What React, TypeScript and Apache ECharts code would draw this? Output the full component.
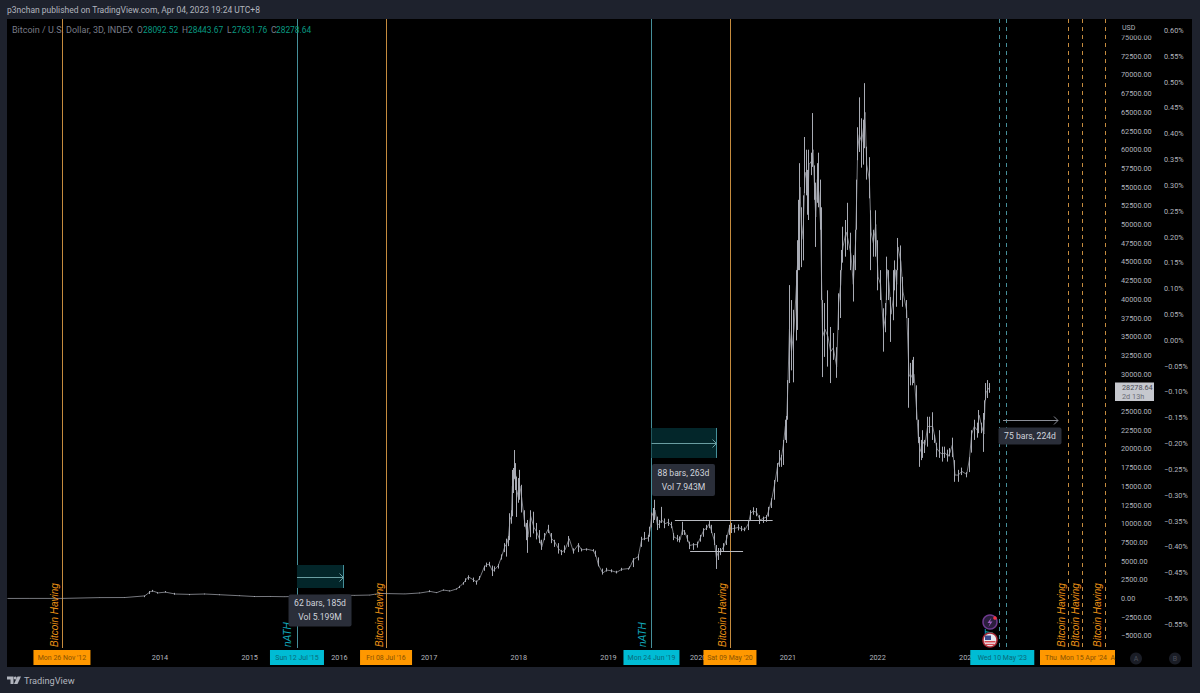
import React, { useEffect, useRef } from "react";
import * as echarts from "echarts";

// Each row: [decimal year, low, high, close].
const bars2012to2016 = [
  [2012.30, 5, 10, 8], [2012.55, 8, 12, 11], [2012.91, 11, 13, 12], [2013.33, 100, 140, 120], [2013.61, 90, 140, 130],
  [2013.83, 180, 400, 350], [2013.89, 600, 1000, 900], [2013.92, 900, 1150, 1000], [2013.98, 650, 850, 750],
  [2014.06, 800, 1000, 850], [2014.17, 500, 750, 600], [2014.33, 450, 600, 550], [2014.50, 550, 650, 600],
  [2014.67, 450, 550, 500], [2014.89, 330, 400, 370], [2015.06, 200, 320, 260], [2015.23, 230, 300, 270],
  [2015.39, 220, 260, 240], [2015.53, 270, 320, 290], [2015.67, 220, 260, 240], [2015.84, 300, 450, 400],
  [2016.01, 420, 470, 440], [2016.17, 380, 430, 420], [2016.34, 440, 480, 460], [2016.45, 550, 750, 680],
  [2016.56, 630, 680, 650], [2016.73, 600, 620, 610], [2016.90, 700, 780, 740],
];
const bars2017to2018 = [
  [2017.01, 850, 1100, 950], [2017.085, 750, 850, 780], [2017.158, 1050, 1200, 1130], [2017.233, 950, 1080, 1000],
  [2017.307, 1200, 1350, 1280], [2017.344, 1400, 1700, 1600], [2017.381, 1850, 2200, 2050], [2017.411, 2200, 2700, 2500],
  [2017.437, 2500, 3100, 2900], [2017.493, 2200, 2800, 2500], [2017.530, 1850, 2400, 2200], [2017.567, 2500, 3000, 2800],
  [2017.615, 3700, 4400, 4200], [2017.642, 4200, 4800, 4500], [2017.671, 4300, 4900, 4600], [2017.705, 3000, 4400, 3700],
  [2017.735, 3600, 4300, 3900], [2017.771, 4000, 4600, 4400], [2017.809, 5200, 5900, 5600], [2017.846, 6200, 7400, 7000],
  [2017.865, 5600, 8000, 7300], [2017.883, 7000, 8350, 8000], [2017.902, 7800, 11400, 10500], [2017.917, 10000, 11800, 11000],
  [2017.928, 11000, 17190, 15000], [2017.947, 14100, 17450, 16000], [2017.958, 16000, 19850, 17500], [2017.969, 14500, 18100, 16000],
  [2017.976, 10900, 16300, 13500], [2017.994, 12800, 16100, 14500], [2018.013, 13200, 17200, 15000], [2018.032, 11500, 15200, 13500],
  [2018.061, 9600, 11800, 10500], [2018.087, 7800, 10100, 9000], [2018.102, 6100, 10500, 8200], [2018.132, 8200, 11800, 11000],
  [2018.169, 8700, 11600, 9500], [2018.199, 7900, 10100, 8900], [2018.229, 7400, 9150, 8000], [2018.256, 6500, 7850, 6900],
  [2018.292, 7800, 8750, 8400], [2018.329, 8750, 9850, 9300], [2018.367, 7400, 8750, 8000], [2018.404, 6900, 7850, 7500],
  [2018.441, 6000, 7400, 6700], [2018.478, 5800, 6500, 6200], [2018.516, 6100, 7100, 6500], [2018.562, 6900, 8350, 8000],
  [2018.608, 6000, 6700, 6300], [2018.664, 6200, 7400, 7200], [2018.701, 6300, 6700, 6500], [2018.757, 6400, 6700, 6600],
  [2018.831, 6300, 6600, 6400], [2018.861, 5600, 6400, 5700], [2018.887, 4300, 5500, 4500], [2018.936, 3200, 4000, 3400],
  [2018.981, 3600, 4100, 3800],
];
const bars2019to2020 = [
  [2019.035, 3500, 3900, 3700], [2019.091, 3350, 3700, 3500], [2019.147, 3700, 4100, 3900], [2019.221, 3850, 4100, 4000],
  [2019.240, 4000, 4300, 4200], [2019.277, 4200, 5400, 5200], [2019.332, 5100, 5900, 5600], [2019.370, 6900, 8250, 7900],
  [2019.407, 7800, 8900, 8000], [2019.444, 7600, 8500, 8100], [2019.463, 8250, 9600, 9200], [2019.482, 9500, 11500, 11000],
  [2019.500, 10100, 12100, 11500], [2019.519, 10500, 13200, 11800], [2019.545, 9150, 10950, 9800], [2019.567, 9400, 10500, 10000],
  [2019.593, 10100, 12250, 10500], [2019.631, 9400, 10700, 10000], [2019.668, 9700, 10650, 10200], [2019.706, 9400, 10250, 9700],
  [2019.731, 7800, 8750, 8200], [2019.768, 7600, 8500, 8000], [2019.798, 7500, 8300, 7800], [2019.824, 8500, 10250, 9200],
  [2019.855, 8500, 9150, 8800], [2019.880, 7600, 8500, 7900], [2019.909, 6600, 7600, 7100], [2019.946, 6500, 7400, 7200],
  [2019.990, 6800, 7600, 7200], [2020.028, 7600, 8500, 8200], [2020.065, 8250, 9400, 9200], [2020.095, 9150, 9850, 9400],
  [2020.124, 9400, 10350, 10000], [2020.151, 8750, 9850, 8900], [2020.179, 7150, 8750, 7800], [2020.202, 3950, 7150, 5500],
  [2020.225, 5150, 6750, 6200], [2020.251, 5800, 6750, 6300], [2020.288, 6300, 7400, 7000], [2020.318, 7150, 8500, 8000],
  [2020.347, 8500, 9850, 9500], [2020.374, 8750, 10100, 9300], [2020.411, 8800, 9850, 9400], [2020.448, 9100, 9900, 9500],
  [2020.485, 9000, 9700, 9300], [2020.522, 9000, 9500, 9200], [2020.559, 9150, 10500, 10000], [2020.585, 10500, 11800, 11400],
  [2020.615, 11200, 12200, 11700], [2020.652, 11000, 12100, 11500], [2020.689, 9950, 11150, 10500], [2020.726, 10100, 10950, 10700],
  [2020.763, 10250, 11150, 10900], [2020.792, 10950, 12250, 12000], [2020.819, 12100, 13400, 13200], [2020.856, 13200, 15850, 15500],
  [2020.886, 15600, 18100, 17800], [2020.912, 17600, 19850, 18500], [2020.930, 17600, 19200, 19000], [2020.949, 17850, 21200, 20500],
  [2020.971, 21200, 23900, 23000], [2020.987, 20800, 24400, 24000],
];
const bars2021 = [
  [2021.001, 23900, 29200, 29000], [2021.017, 28800, 41900, 36000], [2021.040, 30500, 39900, 33000], [2021.068, 28900, 38600, 36000],
  [2021.096, 34500, 43900, 42000], [2021.113, 35900, 47900, 46000], [2021.124, 43900, 53300, 50000], [2021.135, 43900, 58200, 55000],
  [2021.154, 44300, 52300, 48000], [2021.172, 45200, 53900, 50000], [2021.191, 54200, 61700, 57000], [2021.210, 53900, 60000, 56000],
  [2021.224, 51300, 57300, 53000], [2021.235, 50600, 60000, 58000], [2021.265, 56600, 59600, 58500], [2021.280, 57700, 64900, 60000],
  [2021.297, 53300, 57900, 55000], [2021.310, 47000, 55600, 51000], [2021.328, 52900, 58200, 56000], [2021.347, 52300, 59600, 54000],
  [2021.364, 49300, 56000, 50000], [2021.376, 39900, 52300, 42000], [2021.386, 29600, 39900, 35000], [2021.413, 32300, 39500, 36000],
  [2021.447, 31000, 41200, 35000], [2021.477, 28800, 36300, 33000], [2021.506, 31900, 35500, 33500], [2021.544, 29500, 33600, 31000],
  [2021.566, 35900, 40800, 39500], [2021.589, 37500, 43900, 42000], [2021.600, 43900, 46600, 45500], [2021.614, 44900, 49700, 47000],
  [2021.648, 45700, 50600, 49000], [2021.670, 46600, 52900, 48000], [2021.703, 43900, 48900, 46000], [2021.729, 39700, 45900, 42000],
  [2021.756, 43900, 49300, 48000], [2021.767, 49300, 56000, 54000], [2021.778, 58600, 63000, 60000], [2021.796, 59700, 67000, 62000],
  [2021.823, 57600, 64200, 61000], [2021.843, 58000, 64000, 63000], [2021.860, 60200, 68900, 65000], [2021.879, 56000, 60400, 58000],
  [2021.908, 53500, 59000, 56000], [2021.927, 43900, 51900, 49000], [2021.953, 45700, 49300, 47500], [2021.980, 45700, 51900, 50000],
];
const bars2022to2023 = [
  [2022.005, 41200, 47900, 43000], [2022.033, 39900, 43900, 42000], [2022.065, 33000, 38800, 36000], [2022.092, 35600, 39500, 38000],
  [2022.106, 39900, 45700, 44000], [2022.128, 39900, 43900, 42000], [2022.150, 34300, 40300, 38000], [2022.175, 37200, 43900, 40000],
  [2022.194, 41200, 45200, 44000], [2022.213, 39000, 43900, 42000], [2022.227, 43900, 48200, 47000], [2022.260, 39900, 47200, 45000],
  [2022.283, 39000, 43000, 41000], [2022.324, 37500, 39900, 38500], [2022.350, 25500, 37500, 30000], [2022.369, 28500, 31500, 29500],
  [2022.389, 28500, 31900, 30000], [2022.406, 28800, 32300, 30000], [2022.436, 23900, 28500, 25000], [2022.454, 20800, 23900, 21500],
  [2022.473, 17600, 21600, 20000], [2022.489, 18500, 21200, 19500], [2022.503, 18800, 22500, 21000], [2022.528, 19450, 21200, 20500],
  [2022.558, 20300, 24300, 23000], [2022.584, 22100, 24300, 23000], [2022.614, 21200, 24900, 23000], [2022.640, 20800, 21900, 21500],
  [2022.662, 18900, 20800, 20000], [2022.696, 18800, 22500, 19500], [2022.721, 18300, 20300, 19300], [2022.751, 18800, 20300, 19500],
  [2022.785, 18300, 19900, 19000], [2022.807, 19000, 20100, 19500], [2022.833, 18900, 21500, 20500], [2022.863, 15600, 18500, 16500],
  [2022.900, 15600, 17200, 16500], [2022.938, 16500, 17500, 17000], [2022.993, 16200, 16900, 16600], [2023.022, 16900, 18900, 18500],
  [2023.049, 19500, 22500, 22000], [2023.078, 21200, 23900, 23000], [2023.111, 21500, 23500, 22500], [2023.133, 22100, 25200, 24500],
  [2023.160, 22100, 23500, 23000], [2023.186, 19600, 24800, 22000], [2023.197, 23900, 26500, 26000], [2023.208, 26500, 28800, 27500],
  [2023.233, 26800, 29200, 28000], [2023.252, 27500, 28800, 28278.64],
];

const yearLabels = [2014, 2015, 2016, 2017, 2018, 2019, 2020, 2021, 2022, 2023];
const priceTicks = [-5000, -2500, 0, 2500, 5000, 7500, 10000, 12500, 15000, 17500, 20000, 22500, 25000, 30000, 32500, 35000, 37500, 40000, 42500, 45000, 47500, 50000, 52500, 55000, 57500, 60000, 62500, 65000, 67500, 70000, 72500, 75000];
const percentTicks = [-0.55, -0.5, -0.45, -0.4, -0.35, -0.3, -0.25, -0.2, -0.15, -0.1, -0.05, 0, 0.05, 0.1, 0.15, 0.2, 0.25, 0.3, 0.35, 0.4, 0.45, 0.5, 0.55, 0.6];

const solidEventYears = [2012.907, 2015.527, 2016.52, 2019.479, 2020.354];
const solidEventKinds = ["halving", "ath", "halving", "ath", "halving"];
const dashedEventYears = [2023.353, 2023.431, 2024.123, 2024.279, 2024.535];
const dashedEventKinds = ["ath", "ath", "halving", "halving", "halving"];

const tagYears = [2012.907, 2015.527, 2016.52, 2019.479, 2020.354, 2023.39];
const tagTexts = ["Mon 26 Nov '12", "Sun 12 Jul '15", "Fri 08 Jul '16", "Mon 24 Jun '19", "Sat 09 May '20", "Wed 10 May '23"];
const tagKinds = ["halving", "ath", "halving", "ath", "halving", "ath"];
const tagWidths = [57, 54, 52, 56, 53, 64];

const eventNoteYears = [2012.907, 2015.527, 2016.52, 2019.479, 2020.354, 2023.353, 2024.123, 2024.279, 2024.535];
const eventNoteTexts = ["Bitcoin Having", "nATH", "Bitcoin Having", "nATH", "Bitcoin Having", "nATH", "Bitcoin Having", "Bitcoin Having", "Bitcoin Having"];
const eventNoteKinds = ["halving", "ath", "halving", "ath", "halving", "ath", "halving", "halving", "halving"];

const rangeFromYears = [2015.527, 2019.479];
const rangeToYears = [2016.04, 2020.2];
const rangeTopPrices = [4480, 22800];
const rangeBottomPrices = [1400, 18790];
const rangeArrowPrices = [2875, 20800];

const projFromYear = 2023.398;
const projToYear = 2024.011;
const projPrice = 23870;

const calloutYears = [2015.784, 2019.836, 2023.699];
const calloutPrices = [-1600, 15840, 21730];
const calloutFirstLines = ["62 bars, 185d", "88 bars, 263d", "75 bars, 224d"];
const calloutSecondLines = ["Vol 5.199M", "Vol 7.943M", ""];

const levelFromYears = [2019.74, 2019.91];
const levelToYears = [2020.83, 2020.5];
const levelPrices = [10495, 6350];

const PX_LEFT = 7, PX_RIGHT = 1116, PX_TOP = 19, PX_BOTTOM = 648;
const COL = {
  bg: "#1e222d", text: "#b2b5be", dim: "#787b86", green: "#089981", orange: "#ff9800", cyan: "#00bcd4",
  orangeLine: "#c58b3e", cyanLine: "#468f9a", candle: "#a8abb4", box: "#2a2e39", teal: "#03262a",
};
const FONT = "Roboto, 'Noto Sans', sans-serif";
const xMin = 2014 + (PX_LEFT - 160) / 89.7;
const xMax = 2014 + (PX_RIGHT - 160) / 89.7;
const yPerPx = 133.69;
const yMin = (598.5 - PX_BOTTOM) * yPerPx;
const yMax = (598.5 - PX_TOP) * yPerPx;
const pctPerPx = 0.05 / 25.82;
const pMin = (340.3 - PX_BOTTOM) * pctPerPx;
const pMax = (340.3 - PX_TOP) * pctPerPx;

const allBars = [...bars2012to2016, ...bars2017to2018, ...bars2019to2020, ...bars2021, ...bars2022to2023];

function kindColor(kind: string) { return kind === "ath" ? COL.cyanLine : COL.orangeLine; }
function crisp(v: number) { return Math.round(v) + 0.5; }

function buildOption() {
  const eventSeries = (years: number[], kinds: string[], dashed: boolean) => ({
    type: "custom", silent: true, clip: false, z: 3,
    data: years.map((y) => [y, 0]),
    renderItem: (params: any, api: any) => {
      const p1 = api.coord([api.value(0), yMax]);
      const p2 = api.coord([api.value(0), yMin]);
      const x = crisp(p1[0]);
      return {
        type: "line",
        shape: { x1: x, y1: p1[1], x2: x, y2: p2[1] },
        style: { stroke: kindColor(kinds[params.dataIndex]), lineWidth: 1, lineDash: dashed ? [4, 4] : undefined, fill: "none" },
      };
    },
  });
  return {
    animation: false,
    backgroundColor: COL.bg,
    grid: { left: PX_LEFT, top: PX_TOP, width: PX_RIGHT - PX_LEFT, height: PX_BOTTOM - PX_TOP, containLabel: false },
    xAxis: {
      type: "value", min: xMin, max: xMax, splitLine: { show: false }, axisLine: { show: false }, axisTick: { show: false },
      axisLabel: {
        customValues: yearLabels, color: COL.text, fontSize: 7.3, fontFamily: FONT, margin: 6,
        formatter: (v: number) => String(Math.round(v)),
      },
    },
    yAxis: [
      {
        type: "value", position: "right", min: yMin, max: yMax, splitLine: { show: false }, axisLine: { show: false }, axisTick: { show: false },
        axisLabel: {
          customValues: priceTicks, color: COL.text, fontSize: 7.3, fontFamily: FONT, margin: 5, align: "left",
          formatter: (v: number) => v.toFixed(2).replace("-", "\u2212"),
        },
      },
      {
        type: "value", position: "right", min: pMin, max: pMax, splitLine: { show: false }, axisLine: { show: false }, axisTick: { show: false },
        axisLabel: {
          customValues: percentTicks, color: COL.text, fontSize: 7.3, fontFamily: FONT, margin: 48, align: "left",
          formatter: (v: number) => v.toFixed(2).replace("-", "\u2212") + "%",
        },
      },
    ],
    series: [
      eventSeries(solidEventYears, solidEventKinds, false),
      eventSeries(dashedEventYears, dashedEventKinds, true),
      { // teal date-range boxes with their arrows
        type: "custom", silent: true, clip: false, z: 3,
        data: rangeFromYears.map((y, i) => [y, rangeArrowPrices[i]]),
        renderItem: (params: any, api: any) => {
          const i = params.dataIndex;
          const a = api.coord([rangeFromYears[i], rangeTopPrices[i]]);
          const b = api.coord([rangeToYears[i], rangeBottomPrices[i]]);
          const m = api.coord([rangeToYears[i], rangeArrowPrices[i]]);
          const my = crisp(m[1]);
          const bx = crisp(b[0]);
          return {
            type: "group",
            children: [
              { type: "rect", shape: { x: a[0], y: a[1], width: b[0] - a[0], height: b[1] - a[1] }, style: { fill: COL.teal } },
              { type: "line", shape: { x1: bx, y1: a[1], x2: bx, y2: b[1] }, style: { stroke: COL.cyanLine, lineWidth: 1 } },
              { type: "line", shape: { x1: a[0], y1: my, x2: bx, y2: my }, style: { stroke: "#6a9ea2", lineWidth: 1 } },
              { type: "polyline", shape: { points: [[bx - 4, my - 4], [bx, my], [bx - 4, my + 4]] }, style: { stroke: "#6a9ea2", lineWidth: 1, fill: "none" } },
            ],
          };
        },
      },
      {
        type: "candlestick", name: "BTCUSD", barWidth: 1, z: 4, silent: true,
        itemStyle: { color: COL.candle, color0: COL.candle, borderColor: COL.candle, borderColor0: COL.candle, borderWidth: 1 },
        data: allBars.map((b, i) => {
          const prev = i > 0 ? allBars[i - 1][3] : b[3];
          const open = Math.min(b[2], Math.max(b[1], prev));
          return [b[0], open, b[3], b[1], b[2]];
        }),
      },
      {
        type: "line", name: "close", symbol: "none", z: 4, silent: true,
        lineStyle: { color: COL.candle, width: 1, opacity: 0.7 },
        data: allBars.map((b) => [b[0], b[3]]),
      },
      { // horizontal support and resistance levels
        type: "custom", silent: true, clip: false, z: 5,
        data: levelPrices.map((p, i) => [levelFromYears[i], p]),
        renderItem: (params: any, api: any) => {
          const i = params.dataIndex;
          const a = api.coord([levelFromYears[i], levelPrices[i]]);
          const b = api.coord([levelToYears[i], levelPrices[i]]);
          return { type: "line", shape: { x1: a[0], y1: crisp(a[1]), x2: b[0], y2: crisp(a[1]) }, style: { stroke: "#b8bac0", lineWidth: 1 } };
        },
      },
      { // projection arrow
        type: "custom", silent: true, clip: false, z: 5,
        data: [[projFromYear, projPrice]],
        renderItem: (_p: any, api: any) => {
          const a = api.coord([projFromYear, projPrice]);
          const b = api.coord([projToYear, projPrice]);
          const y = crisp(a[1]);
          return {
            type: "group",
            children: [
              { type: "line", shape: { x1: a[0], y1: y, x2: b[0], y2: y }, style: { stroke: "#8a8d96", lineWidth: 1 } },
              { type: "polyline", shape: { points: [[b[0] - 4, y - 4], [b[0], y], [b[0] - 4, y + 4]] }, style: { stroke: "#8a8d96", lineWidth: 1, fill: "none" } },
            ],
          };
        },
      },
      { // vertical notes beside the event lines
        type: "custom", silent: true, clip: false, z: 6,
        data: eventNoteYears.map((y) => [y, 0]),
        renderItem: (params: any, api: any) => {
          const i = params.dataIndex;
          const kind = eventNoteKinds[i];
          const bottom = api.coord([api.value(0), yMin]);
          return {
            type: "text", x: bottom[0] - (kind === "ath" ? 9 : 7), y: bottom[1] - 1, rotation: Math.PI / 2,
            style: { text: eventNoteTexts[i], align: "left", verticalAlign: "middle", fill: kind === "ath" ? "#12a5b8" : "#ec9216", font: `italic 10px 'Liberation Sans'` },
          };
        },
      },
      { // callouts
        type: "custom", silent: true, clip: false, z: 7,
        data: calloutYears.map((y, i) => [y, calloutPrices[i]]),
        renderItem: (params: any, api: any) => {
          const i = params.dataIndex;
          const c = api.coord([calloutYears[i], calloutPrices[i]]);
          const two = calloutSecondLines[i] !== "";
          const h = two ? 32 : 17;
          const children: any[] = [
            { type: "rect", shape: { x: c[0] - 31.5, y: c[1] - h / 2, width: 63, height: h, r: 2 }, style: { fill: COL.box } },
            { type: "text", style: { x: c[0], y: two ? c[1] - 7.5 : c[1], text: calloutFirstLines[i], align: "center", verticalAlign: "middle", fill: "#d1d4dc", font: `8.6px ${FONT}` } },
          ];
          if (two) children.push({ type: "text", style: { x: c[0], y: c[1] + 7, text: calloutSecondLines[i], align: "center", verticalAlign: "middle", fill: "#d1d4dc", font: `8.6px ${FONT}` } });
          return { type: "group", children };
        },
      },
      { // date tags on the time scale
        type: "custom", silent: true, clip: false, z: 8,
        data: tagYears.map((y) => [y, 0]),
        renderItem: (params: any, api: any) => {
          const i = params.dataIndex;
          const p = api.coord([api.value(0), yMin]);
          const w = tagWidths[i];
          const ath = tagKinds[i] === "ath";
          return {
            type: "group",
            children: [
              { type: "rect", shape: { x: p[0] - w / 2, y: p[1] + 2, width: w, height: 15 }, style: { fill: ath ? COL.cyan : COL.orange } },
              { type: "text", style: { x: p[0], y: p[1] + 9.5, text: tagTexts[i], align: "center", verticalAlign: "middle", fill: ath ? "#0a6a7a" : "#8a5200", font: `7px ${FONT}` } },
            ],
          };
        },
      },
    ],
    graphic: {
      elements: [
        { type: "rect", z: -1, silent: true, shape: { x: 7, y: 19, width: 1185, height: 648 }, style: { fill: "#000" } },
        { type: "text", z: 20, silent: true, style: { x: 7, y: 10, text: "p3nchan published on TradingView.com, Apr 04, 2023 19:24 UTC+8", verticalAlign: "middle", fill: COL.text, font: `8.5px ${FONT}` } },
        { type: "text", z: 20, silent: true, style: { x: 12, y: 29.5, text: "Bitcoin / U.S. Dollar, 3D, INDEX", verticalAlign: "middle", fill: COL.dim, font: `9px ${FONT}` } },
        ...[["O", 137, "28092.52", 143], ["H", 182, "28443.67", 188], ["L", 227, "27631.76", 232], ["C", 271, "28278.64", 276]].flatMap((r: any[]) => [
          { type: "text", z: 20, silent: true, style: { x: r[1], y: 29.5, text: r[0], verticalAlign: "middle", fill: COL.dim, font: `8.4px ${FONT}` } },
          { type: "text", z: 20, silent: true, style: { x: r[3], y: 29.5, text: r[2], verticalAlign: "middle", fill: COL.green, font: `8.4px ${FONT}` } },
        ]),
        // cover for the clipped upper axis label, and its unit
        { type: "rect", z: 15, silent: true, shape: { x: 1118, y: 20, width: 38, height: 15.5 }, style: { fill: "#000" } },
        { type: "text", z: 20, silent: true, style: { x: 1122, y: 28, text: "USD", verticalAlign: "middle", fill: COL.text, font: `7px ${FONT}` } },
        // last price tag
        { type: "rect", z: 16, silent: true, shape: { x: 1115, y: 382.5, width: 39, height: 18.5 }, style: { fill: "#c6c8ce" } },
        { type: "text", z: 20, silent: true, style: { x: 1122, y: 387.5, text: "28278.64", verticalAlign: "middle", fill: "#4a4d55", font: `7.3px ${FONT}` } },
        { type: "text", z: 20, silent: true, style: { x: 1122, y: 396, text: "2d 13h", verticalAlign: "middle", fill: "#6a6d75", font: `7.3px ${FONT}` } },
        // combined orange tag
        { type: "rect", z: 16, silent: true, shape: { x: 1040, y: 650, width: 75, height: 15 }, style: { fill: COL.orange } },
        { type: "text", z: 20, silent: true, style: { x: 1045, y: 657.5, text: "Thu", verticalAlign: "middle", fill: "#8a5200", font: `7px ${FONT}` } },
        { type: "text", z: 20, silent: true, style: { x: 1060, y: 657.5, text: "Mon 15 Apr '24", verticalAlign: "middle", fill: "#8a5200", font: `7px ${FONT}` } },
        { type: "text", z: 20, silent: true, style: { x: 1110.5, y: 657.5, text: "A", verticalAlign: "middle", fill: "#8a5200", font: `7px ${FONT}` } },
        // chart-scale buttons
        ...[["A", 1136], ["B", 1175]].flatMap((r: any[]) => [
          { type: "circle", z: 16, silent: true, shape: { cx: r[1], cy: 658.5, r: 6 }, style: { fill: "#1a1d26" } },
          { type: "text", z: 20, silent: true, style: { x: r[1], y: 658.5, text: r[0], align: "center", verticalAlign: "middle", fill: "#4a4d57", font: `7px ${FONT}` } },
        ]),
        // event icons
        { type: "circle", z: 16, silent: true, shape: { cx: 990, cy: 622, r: 7 }, style: { fill: "#2a1f3d", stroke: "#6f3a8f", lineWidth: 1.5 } },
        { type: "polygon", z: 17, silent: true, shape: { points: [[991.5, 617.5], [987.5, 623], [990, 623], [988.5, 627], [992.5, 621.5], [990, 621.5]] }, style: { fill: "#9c5cc0" } },
        { type: "circle", z: 17, silent: true, shape: { cx: 995, cy: 618, r: 1.8 }, style: { fill: "#f23645" } },
        { type: "circle", z: 16, silent: true, shape: { cx: 990, cy: 640, r: 7 }, style: { fill: "#e8e8ee", stroke: "#a52834", lineWidth: 1.5 } },
        { type: "rect", z: 17, silent: true, shape: { x: 984.5, y: 641, width: 11, height: 1.5 }, style: { fill: "#d84850" } },
        { type: "rect", z: 17, silent: true, shape: { x: 985.5, y: 643.8, width: 9, height: 1.3 }, style: { fill: "#d84850" } },
        { type: "rect", z: 17, silent: true, shape: { x: 985, y: 635.5, width: 6, height: 4.5 }, style: { fill: "#3a4a8c" } },
        // footer logo
        { type: "polygon", z: 20, silent: true, shape: { points: [[7, 676.5], [13.5, 676.5], [13.5, 684], [10.5, 684], [10.5, 679.5], [7, 679.5]] }, style: { fill: COL.text } },
        { type: "circle", z: 20, silent: true, shape: { cx: 15.2, cy: 678, r: 1.5 }, style: { fill: COL.text } },
        { type: "polygon", z: 20, silent: true, shape: { points: [[17.5, 676.5], [21, 676.5], [17.5, 684], [14, 684]] }, style: { fill: COL.text } },
        { type: "text", z: 20, silent: true, style: { x: 24, y: 680.5, text: "TradingView", verticalAlign: "middle", fill: COL.text, font: `9.2px ${FONT}` } },
      ],
    },
  };
}

export default function App() {
  const ref = useRef<HTMLDivElement>(null);
  useEffect(() => {
    if (!ref.current) return;
    const chart = echarts.init(ref.current, undefined, { renderer: "svg" });
    chart.setOption(buildOption() as any);
    return () => chart.dispose();
  }, []);
  return <div ref={ref} style={{ position: "fixed", left: 0, top: 0, width: 1200, height: 693 }} />;
}
